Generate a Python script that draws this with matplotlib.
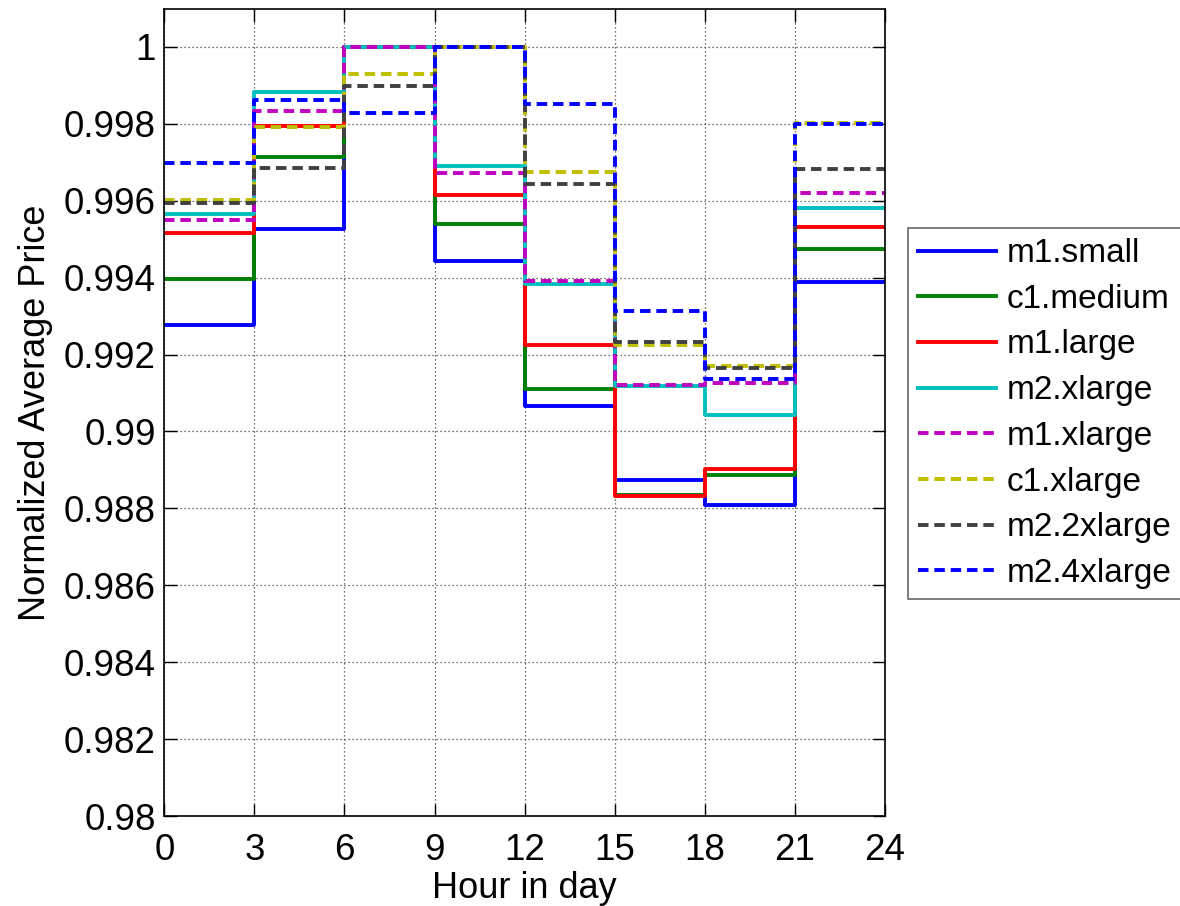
import matplotlib
matplotlib.use("Agg")
import matplotlib.pyplot as plt
from matplotlib.ticker import FuncFormatter, MultipleLocator

plt.rcParams['font.family'] = ['Liberation Sans', 'DejaVu Sans']

# Start hour of each 3-hour block
hours = [0, 3, 6, 9, 12, 15, 18, 21, 24]

# Normalized average price per 3-hour block, per instance type
m1_small   = [0.99278, 0.99525, 1.00000, 0.99444, 0.99066, 0.98873, 0.98810, 0.99388]
c1_medium  = [0.99397, 0.99712, 1.00000, 0.99538, 0.99111, 0.98836, 0.98886, 0.99474]
m1_large   = [0.99515, 0.99795, 1.00000, 0.99615, 0.99226, 0.98833, 0.98902, 0.99531]
m2_xlarge  = [0.99564, 0.99881, 1.00000, 0.99689, 0.99382, 0.99117, 0.99042, 0.99581]
m1_xlarge  = [0.99549, 0.99832, 1.00000, 0.99672, 0.99390, 0.99122, 0.99127, 0.99620]
c1_xlarge  = [0.99601, 0.99791, 0.99929, 1.00000, 0.99675, 0.99226, 0.99169, 0.99802]
m2_2xlarge = [0.99595, 0.99684, 0.99898, 1.00000, 0.99643, 0.99233, 0.99165, 0.99683]
m2_4xlarge = [0.99697, 0.99861, 0.99827, 1.00000, 0.99852, 0.99313, 0.99137, 0.99798]

labels = ['m1.small', 'c1.medium', 'm1.large', 'm2.xlarge',
          'm1.xlarge', 'c1.xlarge', 'm2.2xlarge', 'm2.4xlarge']
series = [m1_small, c1_medium, m1_large, m2_xlarge,
          m1_xlarge, c1_xlarge, m2_2xlarge, m2_4xlarge]
colors = ['#0000ff', '#008000', '#ff0000', '#00bfbf',
          '#bf00bf', '#bfbf00', '#404040', '#0000ff']
dash = (0, (2.7, 1.5))
styles = ['-', '-', '-', '-', dash, dash, dash, dash]

fig = plt.figure(figsize=(11.8, 9.06), dpi=100)
ax = fig.add_axes([0.1392, 0.099, 0.6108, 0.8907])

for lab, vals, col, ls in zip(labels, series, colors, styles):
    ax.step(hours, vals + [vals[-1]], where='post', color=col,
            linestyle=ls, linewidth=2.8, label=lab)

ax.set_xlim(0, 24)
ax.set_ylim(0.98, 1.00097)
ax.xaxis.set_major_locator(MultipleLocator(3))
ax.yaxis.set_major_locator(MultipleLocator(0.002))
ax.yaxis.set_major_formatter(FuncFormatter(lambda v, p: ('%.3f' % v).rstrip('0').rstrip('.')))

ax.grid(True, linestyle=(0, (1, 2.2)), color='#404040', linewidth=0.9)
ax.tick_params(direction='in', length=9, width=1, top=True, right=True,
               labelsize=26.5, colors='black')
ax.tick_params(axis='x', pad=12)
ax.tick_params(axis='y', pad=6)
for s in ax.spines.values():
    s.set_linewidth(1.2)
    s.set_color('black')

ax.set_xlabel('Hour in day', fontsize=26, labelpad=2)
ax.set_ylabel('Normalized Average Price', fontsize=26, labelpad=8)

leg = fig.legend(loc='center left', bbox_to_anchor=(908 / 1180, 1 - 413.5 / 906),
                 fontsize=24, frameon=True, fancybox=False, edgecolor='#404040',
                 handlelength=2.35, handletextpad=0.3, labelspacing=0.44,
                 borderpad=0.3, borderaxespad=0)
leg.get_frame().set_linewidth(1.2)

fig.savefig('out.png', dpi=100)
